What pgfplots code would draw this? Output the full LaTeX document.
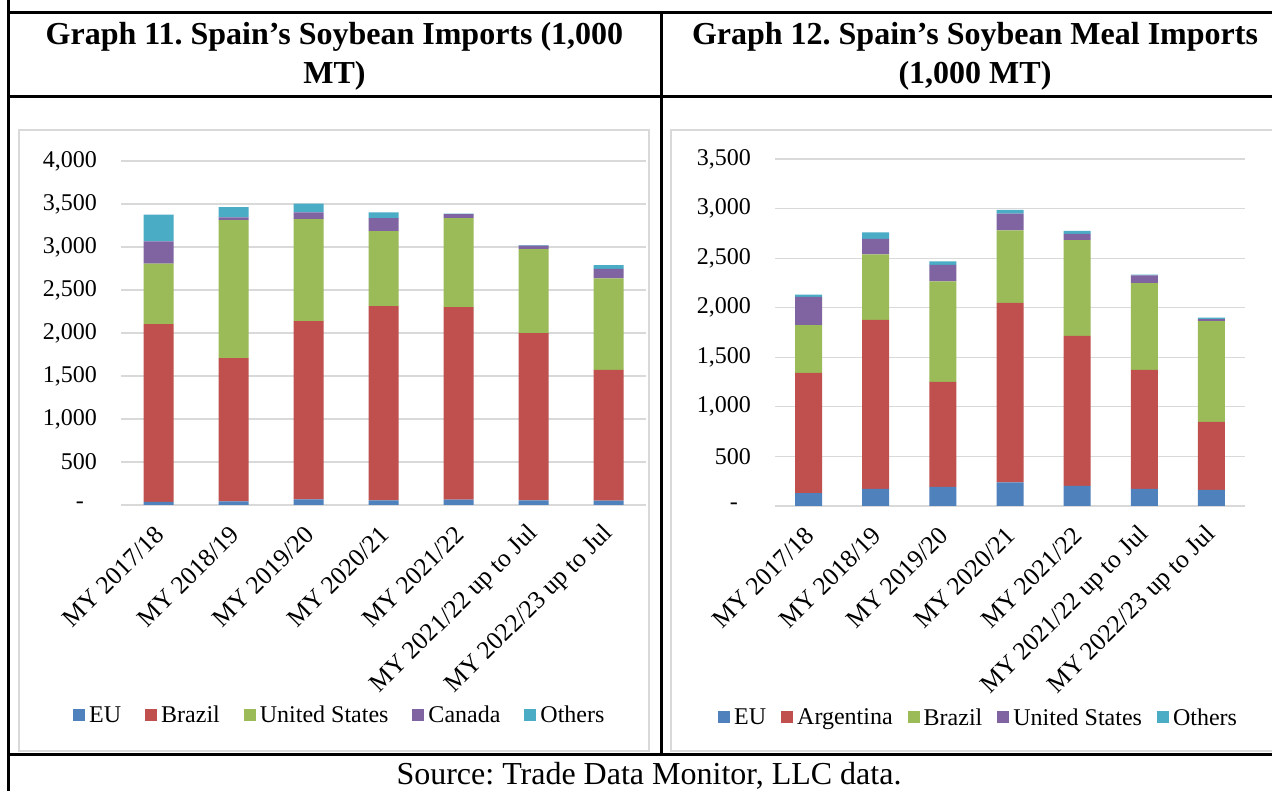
\documentclass[border=0pt]{standalone}
\usepackage{fontspec}
\setmainfont{Liberation Serif}
\usepackage{pgfplots}
\usepackage{pgfplotstable}
\pgfplotsset{compat=1.18}
\frenchspacing
\definecolor{cEU}{HTML}{4F81BD}
\definecolor{cRed}{HTML}{C0504D}
\definecolor{cGreen}{HTML}{9BBB59}
\definecolor{cPurple}{HTML}{8064A2}
\definecolor{cCyan}{HTML}{4BACC6}
\definecolor{gridgray}{HTML}{D9D9D9}

\pgfplotstableread{
x EU Brazil US Canada Others
0 35 2068 704 257 311
1 43 1664 1606 31 120
2 66 2072 1186 78 101
3 54 2259 871 152 66
4 62 2240 1034 47 5
5 54 1944 976 43 4
6 50 1521 1065 109 43
}\soybean

\pgfplotstableread{
x EU Argentina Brazil US Others
0 131 1212 481 286 23
1 172 1706 659 158 64
2 192 1060 1013 168 34
3 239 1810 731 168 40
4 202 1514 966 64 30
5 172 1201 875 77 10
6 162 686 1016 20 17
}\meal

\pgfplotsset{
  mystyle/.style={
    scale only axis,
    anchor=south west,
    xmin=-0.5, xmax=6.5, ymin=0,
    ybar stacked,
    enlargelimits=false,
    axis line style={draw=none},
    tick style={draw=none},
    ymajorgrids,
    major grid style={draw=gridgray, line width=1.2bp},
    xtick={0,...,6},
    xticklabels={MY 2017/18, MY 2018/19, MY 2019/20, MY 2020/21, MY 2021/22, MY 2021/22 up to Jul, MY 2022/23 up to Jul},
    yticklabel style={font=\fontsize{24bp}{28bp}\selectfont, anchor=east, inner sep=0pt, xshift=-24bp},
    xticklabel style={font=\fontsize{25.5bp}{30bp}\selectfont, inner sep=0pt, xshift=1bp, yshift=-25bp, rotate=45, anchor=east},
    legend columns=-1,
    legend image code/.code={\fill[##1, draw=none] (0bp,-6bp) rectangle (12bp,6bp);},
    legend style={draw=none, fill=none, anchor=west, inner sep=0pt,
      font=\fontsize{24bp}{28bp}\selectfont,
      nodes={inner sep=0pt},
      /tikz/every odd column/.append style={column sep=4bp}},
  }
}

\begin{document}
\begin{tikzpicture}
\useasboundingbox (0,0) rectangle (1272bp,791bp);
\clip (0,0) rectangle (1272bp,791bp);
\fill[white] (0,0) rectangle (1272bp,791bp);

% chart frames
\draw[gridgray, line width=1.5bp] (19bp,40bp) rectangle (649bp,661bp);
\draw[gridgray, line width=1.5bp] (671bp,40bp) rectangle (1300bp,661bp);

% table lines
\draw[black, line width=3bp] (8bp,778bp) -- (1290bp,778bp);
\draw[black, line width=3bp] (8bp,694bp) -- (1290bp,694bp);
\draw[black, line width=3bp] (8bp,36bp) -- (1290bp,36bp);
\draw[black, line width=3bp] (8bp,800bp) -- (8bp,-10bp);
\draw[black, line width=3bp] (661.5bp,778bp) -- (661.5bp,36bp);

% titles
\node[font=\bfseries\fontsize{32bp}{39bp}\selectfont, align=center] at (334.5bp,735bp) {Graph 11. Spain’s Soybean Imports (1,000\\MT)};
\node[font=\bfseries\fontsize{32bp}{39bp}\selectfont, align=center] at (975bp,735bp) {Graph 12. Spain’s Soybean Meal Imports\\(1,000 MT)};
\node[font=\fontsize{32bp}{38bp}\selectfont] at (649bp,15bp) {Source: Trade Data Monitor, LLC data.};

\begin{axis}[mystyle,
  at={(121bp,286bp)}, width=525bp, height=344bp,
  ymax=4000, bar width=30bp,
  ytick={0,500,...,4000},
  yticklabels={{-\kern13bp},{500},{1,000},{1,500},{2,000},{2,500},{3,000},{3,500},{4,000}},
  legend style={at={(-0.0914,-0.6105)}, /tikz/every even column/.append style={column sep=24bp}},
]
\addplot[fill=cEU, draw=none] table[x=x, y=EU] {\soybean};
\addplot[fill=cRed, draw=none] table[x=x, y=Brazil] {\soybean};
\addplot[fill=cGreen, draw=none] table[x=x, y=US] {\soybean};
\addplot[fill=cPurple, draw=none] table[x=x, y=Canada] {\soybean};
\addplot[fill=cCyan, draw=none] table[x=x, y=Others] {\soybean};
\legend{EU, Brazil, United States, Canada, Others}
\end{axis}

\begin{axis}[mystyle,
  at={(775bp,285bp)}, width=470bp, height=347bp,
  ymax=3500, bar width=27bp,
  ytick={0,500,...,3500},
  yticklabels={{-\kern13bp},{500},{1,000},{1,500},{2,000},{2,500},{3,000},{3,500}},
  legend style={at={(-0.1213,-0.6095)}, /tikz/every even column/.append style={column sep=15bp}},
]
\addplot[fill=cEU, draw=none] table[x=x, y=EU] {\meal};
\addplot[fill=cRed, draw=none] table[x=x, y=Argentina] {\meal};
\addplot[fill=cGreen, draw=none] table[x=x, y=Brazil] {\meal};
\addplot[fill=cPurple, draw=none] table[x=x, y=US] {\meal};
\addplot[fill=cCyan, draw=none] table[x=x, y=Others] {\meal};
\legend{EU, Argentina, Brazil, United States, Others}
\end{axis}
\end{tikzpicture}
\end{document}
